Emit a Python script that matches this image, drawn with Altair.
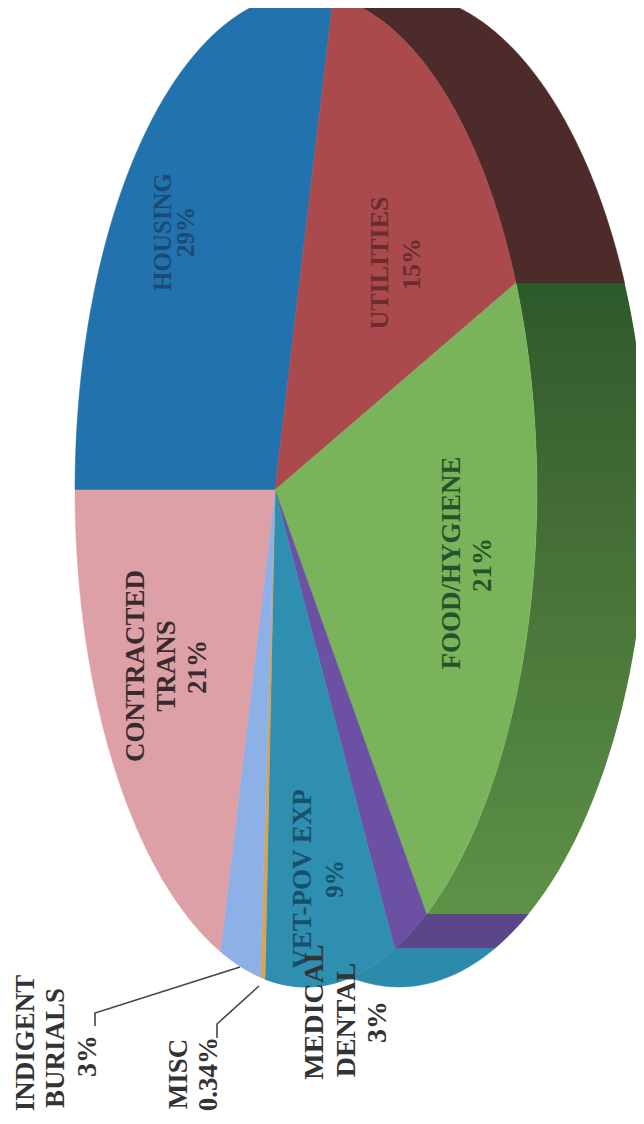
import math
import altair as alt
import pandas as pd

# Slices, clockwise from the flat left boundary. Shares are estimated from the picture.
categories = ["HOUSING", "UTILITIES", "FOOD/HYGIENE", "MEDICAL DENTAL", "VET-POV EXP",
              "MISC", "INDIGENT BURIALS", "CONTRACTED TRANS"]
shares = [29, 15.0, 20.5, 2.3, 8.9, 0.34, 2.96, 21]
top_colors = ["#2272ae", "#ab4a4d", "#79b45b", "#6b50a3", "#2e8fb0",
              "#d9a257", "#8db0e6", "#dca0a6"]
wall_cats = ["UTILITIES", "FOOD/HYGIENE", "MEDICAL DENTAL", "VET-POV EXP"]
wall_colors = ["#4d2b2a", "#3f6f38", "#5a4689", "#2a8bab"]

label_lines = ["HOUSING", "29%", "UTILITIES", "15%", "FOOD/HYGIENE", "21%",
               "CONTRACTED", "TRANS", "21%", "VET-POV EXP", "9%",
               "MEDICAL", "DENTAL", "3%", "INDIGENT", "BURIALS", "3%", "MISC", "0.34%"]
label_x = [163, 186, 380, 412, 452, 483, 136, 167, 198, 303, 335, 315, 347, 378, 26, 56, 88, 179, 209]
label_y = [232, 232, 263, 264, 563, 565, 666, 666, 667, 879, 879, 1012, 1020, 1022, 1043, 1048, 1056, 1074, 1074]
label_size = [25, 25, 26, 26, 27, 27, 27, 27, 27, 27, 25, 28, 28, 28, 27, 27, 28, 27, 27]
label_color = ["#1b4a72", "#1b4a72", "#6a2c2e", "#6a2c2e", "#27512a", "#27512a",
               "#3a2a2e", "#3a2a2e", "#3a2a2e", "#17506a", "#17506a",
               "#333333", "#333333", "#333333", "#333333", "#333333", "#333333", "#333333", "#333333"]

leader_ids = ["i", "i", "i", "m", "m", "m"]
leader_x = [95, 95, 240, 217, 217, 259]
leader_y = [1026, 1013, 967, 1038, 1024, 986]

# Perspective view of the round pie (rendered in page pixels).
CX, CY = 275, 490
R, S, K = 226.8, 492.5, -0.134
W, H = 628, 1104


def project(theta):
    x, y = math.sin(theta), math.cos(theta)
    w = 1 + K * x
    return CX + R * x / w, CY - S * y / w


def extrude(p):
    return p[0] + 70 + 0.075 * p[0], p[1]


def arc(t0, t1):
    n = max(2, int(abs(t1 - t0) / 0.01))
    return [project(t0 + (t1 - t0) * i / n) for i in range(n + 1)]


def feature(name, ring):
    ring = [list(p) for p in ring]
    ring.append(ring[0])
    return {"type": "Feature", "properties": {"name": name},
            "geometry": {"type": "Polygon", "coordinates": [ring]}}


tops, walls = [], []
cum = 0.0
total = sum(shares)
for name, share in zip(categories, shares):
    t0 = -math.pi / 2 + 2 * math.pi * cum / total
    cum += share
    t1 = -math.pi / 2 + 2 * math.pi * cum / total
    pts = arc(t0, t1)
    tops.append(feature(name, [(CX, CY)] + pts))
    if name in wall_cats:
        walls.append(feature(name, pts + [extrude(p) for p in reversed(pts)]))

proj = dict(type="identity", scale=1, translate=[-8, -8])

wall_layer = alt.Chart(alt.Data(values=[f for f in walls if f["properties"]["name"] != "FOOD/HYGIENE"])).mark_geoshape(
    strokeWidth=0.5).encode(
    color=alt.Color("properties.name:N", scale=alt.Scale(domain=wall_cats, range=wall_colors), legend=None),
    stroke=alt.Stroke("properties.name:N", scale=alt.Scale(domain=wall_cats, range=wall_colors), legend=None),
).project(**proj)

food_wall = alt.Chart(alt.Data(values=[f for f in walls if f["properties"]["name"] == "FOOD/HYGIENE"])).mark_geoshape(
    fill=alt.Gradient(gradient="linear", x1=0, x2=0, y1=0, y2=1,
                      stops=[alt.GradientStop(offset=0, color="#2d5a2b"),
                             alt.GradientStop(offset=0.35, color="#436c35"),
                             alt.GradientStop(offset=0.68, color="#4f7f3e"),
                             alt.GradientStop(offset=1, color="#5f9147")]),
    strokeWidth=0).project(**proj)

top_layer = alt.Chart(alt.Data(values=tops)).mark_geoshape(strokeWidth=0.5).encode(
    color=alt.Color("properties.name:N", scale=alt.Scale(domain=categories, range=top_colors), legend=None),
    stroke=alt.Stroke("properties.name:N", scale=alt.Scale(domain=categories, range=top_colors), legend=None),
).project(**proj)

xs = alt.Scale(domain=[8, 8 + W], nice=False, zero=False)
ys = alt.Scale(domain=[8 + H, 8], nice=False, zero=False)

leaders = alt.Chart(pd.DataFrame({"id": leader_ids, "x": leader_x, "y": leader_y,
                                  "o": list(range(len(leader_x)))})).mark_line(
    color="#444444", strokeWidth=1.6).encode(
    x=alt.X("x:Q", scale=xs, axis=None),
    y=alt.Y("y:Q", scale=ys, axis=None),
    detail="id:N", order="o:Q")

texts = alt.Chart(pd.DataFrame({"t": label_lines, "x": label_x, "y": label_y,
                                "s": label_size, "c": label_color})).mark_text(
    angle=270, font="Liberation Serif", fontWeight="bold", align="center", baseline="middle").encode(
    x=alt.X("x:Q", scale=xs, axis=None),
    y=alt.Y("y:Q", scale=ys, axis=None),
    text="t:N",
    size=alt.Size("s:Q", scale=None, legend=None),
    color=alt.Color("c:N", scale=None, legend=None))

chart = alt.layer(wall_layer, food_wall, top_layer, leaders, texts).resolve_scale(
    color="independent", stroke="independent").properties(
    width=W, height=H, autosize="none", padding=0, background="white",
).configure_view(stroke=None)

chart.save("out.html", embed_options={"renderer": "svg", "actions": False})
